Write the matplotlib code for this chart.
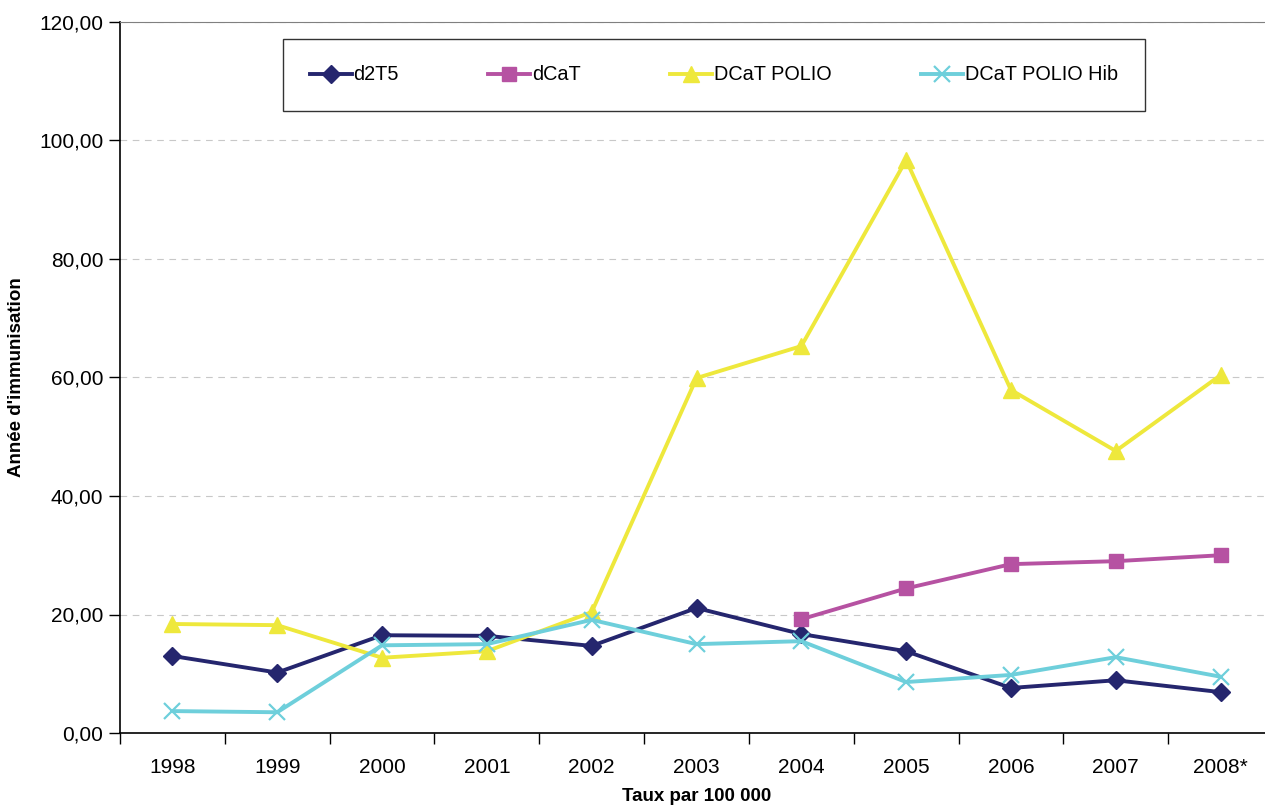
import numpy as np
import matplotlib.pyplot as plt
from matplotlib.ticker import FuncFormatter

plt.rcParams['font.family'] = ['Liberation Sans', 'DejaVu Sans']

# données
annees = ['1998', '1999', '2000', '2001', '2002', '2003', '2004', '2005', '2006', '2007', '2008*']
d2t5 = [13.0, 10.2, 16.5, 16.4, 14.7, 21.1, 16.7, 13.8, 7.6, 8.9, 6.9]
dcat = [np.nan, np.nan, np.nan, np.nan, np.nan, np.nan, 19.2, 24.4, 28.5, 29.0, 30.0]
dcat_polio = [18.4, 18.2, 12.7, 13.8, 20.4, 59.9, 65.3, 96.7, 57.9, 47.6, 60.4]
dcat_polio_hib = [3.7, 3.5, 14.8, 15.0, 19.1, 15.0, 15.5, 8.6, 9.8, 12.8, 9.5]

fig = plt.figure(figsize=(12.65, 8.06), dpi=100)
ax = fig.add_axes([120 / 1265, 1 - 733 / 806, 1153 / 1265, 711 / 806])

x = np.arange(len(annees))
lw = 2.8
ax.plot(x, d2t5, color='#25266E', marker='D', markersize=9.5, linewidth=lw, label='d2T5')
ax.plot(x, dcat, color='#B652A2', marker='s', markersize=10.5, linewidth=lw, label='dCaT')
ax.plot(x, dcat_polio, color='#EEE83C', marker='^', markersize=12, linewidth=lw, label='DCaT POLIO')
ax.plot(x, dcat_polio_hib, color='#6ECFDB', marker='x', markersize=12, markeredgewidth=1.6,
        linewidth=lw, label='DCaT POLIO Hib')

ax.set_xlim(-0.5, len(annees) - 0.5)
ax.set_ylim(0, 120)
ax.set_yticks(np.arange(0, 121, 20))
ax.yaxis.set_major_formatter(FuncFormatter(lambda v, p: f'{v:.2f}'.replace('.', ',')))
ax.set_xticks(np.arange(-0.5, len(annees), 1))
ax.set_xticklabels([])
ax.set_xticks(x, minor=True)
ax.set_xticklabels(annees, minor=True)
ax.tick_params(axis='x', which='major', length=8, width=1, direction='out')
ax.tick_params(axis='x', which='minor', length=0, pad=18, labelsize=15)
ax.tick_params(axis='y', length=8, width=1, labelsize=15, pad=4)

ax.grid(True, axis='y', linestyle=(0, (6, 5)), color='#C8C8C8', linewidth=0.8)
ax.set_axisbelow(True)
ax.spines['right'].set_visible(False)
ax.spines['top'].set_color('#808080')
ax.spines['left'].set_linewidth(1.2)
ax.spines['bottom'].set_linewidth(1.2)

ax.set_xlabel('Taux par 100 000', fontsize=13.5, fontweight='bold', labelpad=8)
ax.set_ylabel("Année d'immunisation", fontsize=13.5, fontweight='bold')
ax.yaxis.set_label_coords(-0.082, 0.5)

leg = fig.legend(loc='center', ncol=4, mode='expand',
                 bbox_to_anchor=(283 / 1265, 1 - 113 / 806, 862 / 1265, 76 / 806),
                 fontsize=14.3, frameon=True, fancybox=False, handlelength=2.1,
                 handletextpad=0.1, borderpad=1.35, borderaxespad=0)
leg.get_frame().set_edgecolor('black')
leg.get_frame().set_linewidth(1)

fig.savefig('out.png', dpi=100)
